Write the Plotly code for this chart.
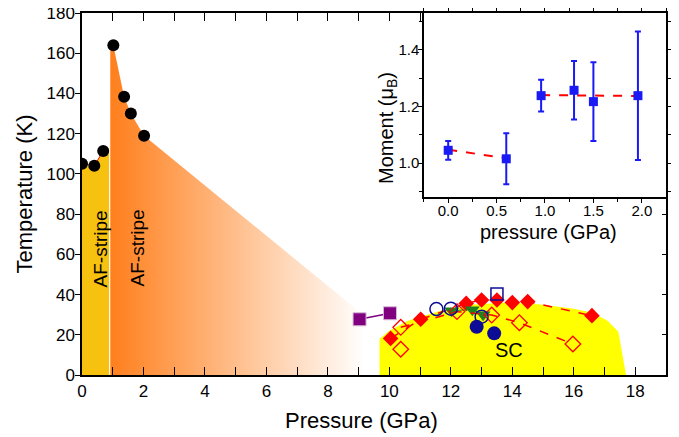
import plotly.graph_objects as go

# ---------------- data ----------------
# AF transition (black circles)
af_p = [0.0, 0.4, 0.69, 1.02, 1.37, 1.59, 2.02]
af_t = [105, 104, 111.4, 164, 138.4, 130, 119]

# phase regions (boundaries)
gold_p = [0.0, 0.0, 0.4, 0.69, 0.88, 0.88]
gold_t = [0, 103.5, 104, 111, 113, 0]
orange_p = [0.92, 0.92, 1.02, 1.37, 1.59, 2.02, 9.7, 9.7]
orange_t = [0, 165, 164, 138.4, 130, 119, 23, 0]
sc_p = [9.68, 9.68, 10.0, 10.6, 11.67, 12.75, 13.85, 14.93, 16.0, 16.6, 17.1, 17.45, 17.7]
sc_t = [0, 18, 22, 27, 32, 35, 36, 35, 33, 31, 27, 21.5, 0]

# purple squares
pur_p = [9.03, 10.02]
pur_t = [27.7, 30.7]
# red filled diamonds
rd_p = [10.04, 11.02, 12.5, 13.0, 13.5, 14.0, 14.5, 16.59]
rd_t = [18.2, 27.7, 35.6, 37.3, 37.3, 36.0, 36.5, 29.5]
# red open diamonds
ro_p = [10.37, 12.2, 13.33, 14.23, 15.97]
ro_t = [23.7, 31.5, 29.8, 26.0, 15.4]
ro2_p = [10.37]
ro2_t = [12.8]
# blue open circles
bo_p = [11.53, 12.0, 13.0]
bo_t = [32.8, 33.0, 29.0]
# blue filled circles
bf_p = [12.84, 13.41]
bf_t = [24.0, 20.7]
# blue open square
bs_p = [13.5]
bs_t = [40.3]
# green down triangles
gt_p = [12.03, 12.7, 13.05]
gt_t = [32.0, 32.5, 30.0]

# inset: moment vs pressure
in_p = [0.0, 0.6, 0.96, 1.3, 1.5, 1.96]
in_m = [1.045, 1.015, 1.238, 1.257, 1.217, 1.238]
in_err = [0.033, 0.09, 0.056, 0.103, 0.139, 0.227]
fit1_p = [0.0, 0.6]
fit1_m = [1.047, 1.017]
fit2_p = [0.96, 1.96]
fit2_m = [1.240, 1.237]

FONT = "Liberation Sans, Arial, sans-serif"
RED = "#FF0000"
NAVY = "#0C0C96"
GREEN = "#1E801E"
PURPLE = "#800080"
IBLUE = "#1A1AF5"

fig = go.Figure()

# regions
fig.add_trace(go.Scatter(x=gold_p, y=gold_t, fill="toself", fillcolor="#F7C10F",
                         mode="lines", line=dict(width=0), hoverinfo="skip"))
fig.add_trace(go.Scatter(x=orange_p, y=orange_t, fill="toself", mode="lines",
                         line=dict(width=0), hoverinfo="skip",
                         fillgradient=dict(type="horizontal", start=0.92, stop=9.2,
                                           colorscale=[[0, "#FF7F1C"], [1, "#FFFFFF"]])))
fig.add_trace(go.Scatter(x=sc_p, y=sc_t, fill="toself", fillcolor="#FFFF00",
                         mode="lines", line=dict(width=0), hoverinfo="skip"))

# AF line between low-pressure circles
fig.add_trace(go.Scatter(x=af_p[:3], y=af_t[:3], mode="lines",
                         line=dict(color=RED, width=1)))
fig.add_trace(go.Scatter(x=af_p, y=af_t, mode="markers",
                         marker=dict(symbol="circle", size=12, color="black")))

# SC dome data
fig.add_trace(go.Scatter(x=pur_p, y=pur_t, mode="lines+markers",
                         line=dict(color=PURPLE, width=1.5),
                         marker=dict(symbol="square", size=13, color=PURPLE,
                                     line=dict(color="#D8B8D8", width=1))))
fig.add_trace(go.Scatter(x=rd_p, y=rd_t, mode="lines+markers",
                         line=dict(color=RED, width=1.5, dash="dash"),
                         marker=dict(symbol="diamond", size=12, color=RED)))
fig.add_trace(go.Scatter(x=gt_p, y=gt_t, mode="lines+markers",
                         line=dict(color=GREEN, width=1),
                         marker=dict(symbol="triangle-down", size=13, color=GREEN)))
fig.add_trace(go.Scatter(x=ro_p, y=ro_t, mode="lines+markers",
                         line=dict(color=RED, width=1.5, dash="dash"),
                         marker=dict(symbol="diamond-open", size=12, color=RED,
                                     line=dict(width=1.3))))
fig.add_trace(go.Scatter(x=ro2_p, y=ro2_t, mode="markers",
                         marker=dict(symbol="diamond-open", size=12, color=RED,
                                     line=dict(width=1.3))))
fig.add_trace(go.Scatter(x=bo_p, y=bo_t, mode="markers",
                         marker=dict(symbol="circle-open", size=13, color=NAVY,
                                     line=dict(width=1.5))))
fig.add_trace(go.Scatter(x=bf_p, y=bf_t, mode="markers",
                         marker=dict(symbol="circle", size=14, color=NAVY)))
fig.add_trace(go.Scatter(x=bs_p, y=bs_t, mode="markers",
                         marker=dict(symbol="square-open", size=12, color=NAVY,
                                     line=dict(width=1.5))))

# right-side inward ticks
fig.add_trace(go.Scatter(x=[0], y=[0], yaxis="y3", mode="markers",
                         marker=dict(opacity=0), hoverinfo="skip"))

# inset
fig.add_trace(go.Scatter(x=fit1_p, y=fit1_m, xaxis="x2", yaxis="y2", mode="lines",
                         line=dict(color=RED, width=2, dash="dash")))
fig.add_trace(go.Scatter(x=fit2_p, y=fit2_m, xaxis="x2", yaxis="y2", mode="lines",
                         line=dict(color=RED, width=2, dash="dash")))
fig.add_trace(go.Scatter(x=in_p, y=in_m, xaxis="x2", yaxis="y2", mode="markers",
                         marker=dict(symbol="square", size=9, color=IBLUE),
                         error_y=dict(type="data", array=in_err, color=IBLUE,
                                      thickness=2, width=3)))

# text labels
fig.add_annotation(x=0.59, y=62.5, text="AF-stripe", textangle=-90, showarrow=False,
                   font=dict(size=19, color="black", family=FONT))
fig.add_annotation(x=1.82, y=63.4, text="AF-stripe", textangle=-90, showarrow=False,
                   font=dict(size=19, color="black", family=FONT))
fig.add_annotation(x=13.9, y=12.4, text="SC", showarrow=False,
                   font=dict(size=20, color="black", family=FONT))
fig.add_annotation(x=9.1, y=-0.085, yref="paper", text="Pressure (GPa)", showarrow=False,
                   xanchor="center", yanchor="top",
                   font=dict(size=22, color="black", family=FONT))
# inset axis titles
fig.add_annotation(x=0.798, y=0.396, xref="paper", yref="paper", text="pressure (GPa)",
                   xanchor="center", yanchor="middle",
                   showarrow=False, font=dict(size=20, color="black", family=FONT))
fig.add_annotation(x=0.5223, y=0.6823, xref="paper", yref="paper",
                   text="Moment (μ<sub>B</sub>)", textangle=-90,
                   xanchor="center", yanchor="middle",
                   showarrow=False, font=dict(size=20, color="black", family=FONT))

axcommon = dict(showline=True, linecolor="black", linewidth=1.5, showgrid=False,
                zeroline=False, tickcolor="black", automargin=False)

# page body adds an 8px offset, so the figure is sized to fit the 679x437 window
fig.update_layout(
    width=671, height=429,
    margin=dict(l=74, r=13, t=5, b=62),
    paper_bgcolor="white", plot_bgcolor="white",
    showlegend=False,
    font=dict(family=FONT, color="black"),
    xaxis=dict(range=[0, 19], dtick=2, tick0=0, ticks="inside", ticklen=8,
               mirror="allticks", tickfont=dict(size=17),
               minor=dict(dtick=1, ticks="inside", ticklen=4, tickcolor="black"),
               **axcommon),
    yaxis=dict(range=[0, 180], dtick=20, tick0=0, ticks="outside", ticklen=5,
               mirror=True, tickfont=dict(size=17), ticklabeloverflow="allow",
               ticklabelstandoff=-3,
               title=dict(text="Temperature (K)", font=dict(size=22), standoff=8),
               **axcommon),
    yaxis3=dict(range=[0, 180], dtick=20, overlaying="y", side="right", anchor="x",
                ticks="inside", ticklen=4, showticklabels=False, showline=False,
                showgrid=False, zeroline=False, tickcolor="black", automargin=False),
    xaxis2=dict(domain=[0.5856, 1.0], anchor="y2", range=[-0.25, 2.25],
                tickvals=[0, 0.5, 1.0, 1.5, 2.0], tickformat=".1f",
                ticks="outside", ticklen=4, mirror="allticks",
                ticklabelstandoff=-5,
                minor=dict(tickvals=[-0.25, 0.25, 0.75, 1.25, 1.75, 2.25], ticks="outside",
                           ticklen=3, tickcolor="black"),
                tickfont=dict(size=15),
                **axcommon),
    yaxis2=dict(domain=[0.4917, 1.0], anchor="x2", range=[0.88, 1.53],
                tickvals=[1.0, 1.2, 1.4], tickformat=".1f",
                ticks="outside", ticklen=4, mirror="allticks",
                ticklabelstandoff=-4,
                minor=dict(tickvals=[0.9, 1.1, 1.3, 1.5], ticks="outside",
                           ticklen=3, tickcolor="black"),
                tickfont=dict(size=15),
                **axcommon),
)

fig.write_html("out.html")
